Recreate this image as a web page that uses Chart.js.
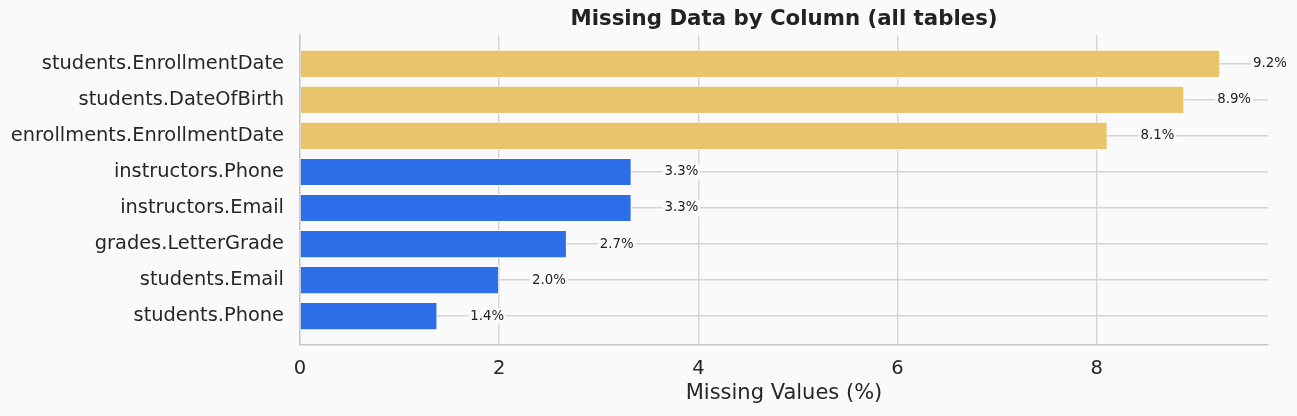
<!DOCTYPE html>
<html>
<head>
<meta charset="utf-8">
<script src="https://cdn.jsdelivr.net/npm/chart.js@4/dist/chart.umd.min.js"></script>
<style>
  html, body { margin: 0; padding: 0; background: #fafafa; }
  #wrap { width: 1297px; height: 416px; }
</style>
</head>
<body>
<div id="wrap"><canvas id="chart"></canvas></div>
<script>
// columns sorted by missing share, top row first
const columns = [
    'students.EnrollmentDate',
    'students.DateOfBirth',
    'enrollments.EnrollmentDate',
    'instructors.Phone',
    'instructors.Email',
    'grades.LetterGrade',
    'students.Email',
    'students.Phone',
];
const missingPct = [9.24, 8.88, 8.11, 3.33, 3.33, 2.68, 2.0, 1.38];
const pctLabels = ['9.2%', '8.9%', '8.1%', '3.3%', '3.3%', '2.7%', '2.0%', '1.4%'];
const xTicks = [0, 2, 4, 6, 8];
const chartTitle = 'Missing Data by Column (all tables)';

const HIGH = '#e9c46a';
const LOW = '#2c6fe8';
const BG = '#fafafa';
const GRID = '#d4d4d4';
const TEXT = '#262626';

// bars above 5% are flagged in gold
const barColors = missingPct.map(v => (v > 5 ? HIGH : LOW));

Chart.defaults.font.family = "'DejaVu Sans', sans-serif";
Chart.defaults.color = TEXT;

// value labels right of each bar, boxed in background colour over the grid line
const valueLabels = {
    id: 'valueLabels',
    afterDatasetsDraw(chart) {
        const { ctx, scales: { x, y } } = chart;
        ctx.save();
        ctx.font = "13.3px 'DejaVu Sans', sans-serif";
        ctx.textBaseline = 'middle';
        ctx.textAlign = 'left';
        missingPct.forEach((v, i) => {
            const px = x.getPixelForValue(v + 0.33);
            const py = y.getPixelForValue(i);
            const w = ctx.measureText(pctLabels[i]).width;
            ctx.fillStyle = BG;
            ctx.fillRect(px - 2, py - 8, w + 4, 16);
            ctx.fillStyle = '#222';
            ctx.fillText(pctLabels[i], px, py);
        });
        ctx.restore();
    },
};

// title centred over the plot area, not the whole canvas
const plotTitle = {
    id: 'plotTitle',
    afterDraw(chart) {
        const { ctx, chartArea } = chart;
        ctx.save();
        ctx.font = "bold 21.3px 'DejaVu Sans', sans-serif";
        ctx.fillStyle = '#222';
        ctx.textAlign = 'center';
        ctx.textBaseline = 'middle';
        ctx.fillText(chartTitle, (chartArea.left + chartArea.right) / 2, 19);
        ctx.restore();
    },
};

const pageBg = {
    id: 'pageBg',
    beforeDraw(chart) {
        const { ctx } = chart;
        ctx.save();
        ctx.fillStyle = BG;
        ctx.fillRect(0, 0, chart.width, chart.height);
        ctx.restore();
    },
};

new Chart(document.getElementById('chart'), {
    type: 'bar',
    data: {
        datasets: [{
            data: missingPct.map((v, i) => ({ x: v, y: i })),
            backgroundColor: barColors,
            borderColor: '#ffffff',
            borderWidth: 1,
            barPercentage: 0.78,
            categoryPercentage: 1.0,
        }],
    },
    options: {
        indexAxis: 'y',
        responsive: true, maintainAspectRatio: false,
        animation: false,
        layout: { padding: { left: 11, right: 29, top: 35, bottom: 0 } },
        plugins: {
            legend: { display: false },
            tooltip: { enabled: false },
            title: { display: false },
        },
        scales: {
            x: {
                type: 'linear', min: 0, max: 9.72,
                afterBuildTicks: s => { s.ticks = xTicks.map(v => ({ value: v })); },
                afterFit: s => { s.height = 71; },
                ticks: { font: { size: 19.5 }, color: TEXT, padding: 12 },
                grid: { color: GRID, lineWidth: 1.4, drawTicks: false },
                border: { display: true, color: '#c8c8c8', width: 1.5 },
                title: {
                    display: true, text: 'Missing Values (%)',
                    font: { size: 21 }, color: TEXT, padding: { top: 0, bottom: 10 },
                },
            },
            y: {
                type: 'linear', min: -0.8, max: 7.8, reverse: true, offset: false,
                afterBuildTicks: s => { s.ticks = columns.map((_, i) => ({ value: i })); },
                afterFit: s => { s.width = 289; },
                ticks: { font: { size: 19.4 }, color: TEXT, padding: 16, callback: v => columns[v] },
                grid: { color: GRID, lineWidth: 1.4, drawTicks: false, offset: false },
                border: { display: true, color: '#c8c8c8', width: 1.5 },
            },
        },
    },
    plugins: [pageBg, valueLabels, plotTitle],
});
</script>
</body>
</html>
